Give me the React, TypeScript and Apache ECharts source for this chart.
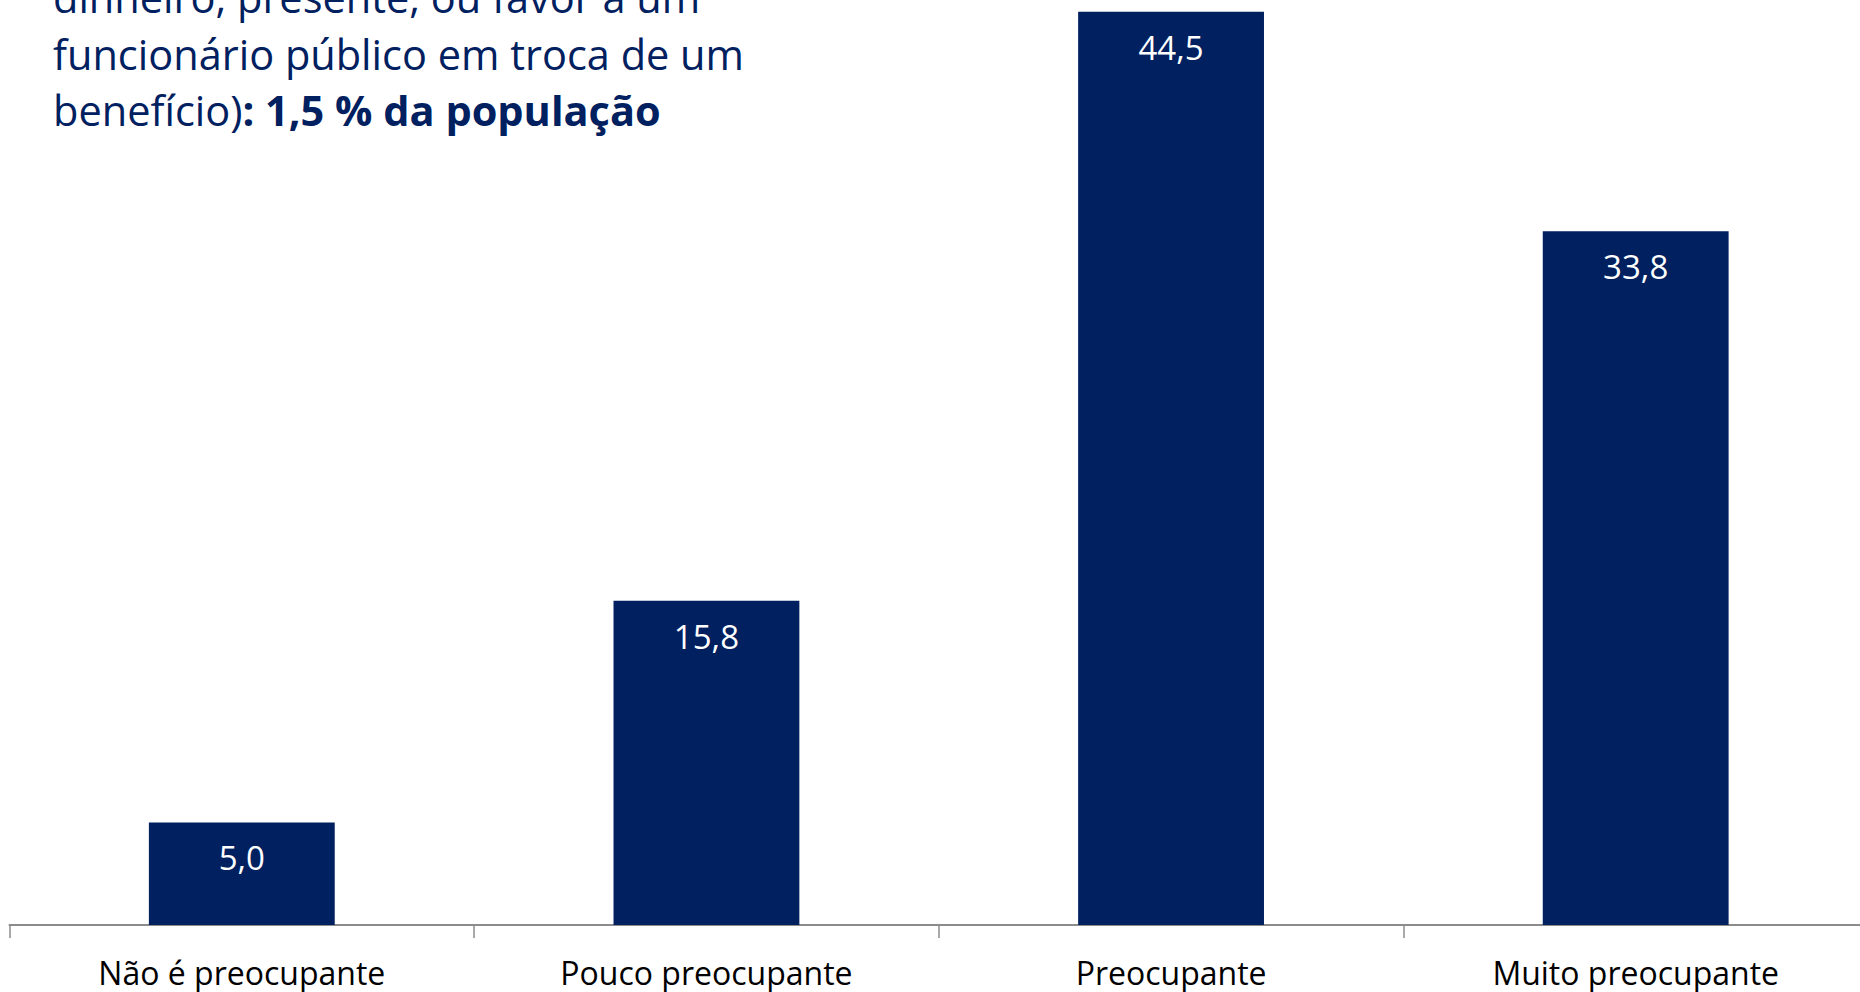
import React, { useEffect, useRef } from "react";
import * as echarts from "echarts";

const categories = ["Não é preocupante", "Pouco preocupante", "Preocupante", "Muito preocupante"];
const values = [5.0, 15.8, 44.5, 33.8];
const noteLines = [
  "dinheiro, presente, ou favor a um",
  "funcionário público em troca de um",
];
const noteLastPlain = "benefício)";
const noteLastBold = ": 1,5 % da população";

const NAVY = "#002060";
const FONT = "'Open Sans', 'Noto Sans', sans-serif";
const NOTE_SIZE = 41.5;

export default function App() {
  const ref = useRef<HTMLDivElement>(null);
  useEffect(() => {
    if (!ref.current) return;
    const chart = echarts.init(ref.current, undefined, { renderer: "svg" });
    chart.setOption({
      animation: false,
      backgroundColor: "#ffffff",
      grid: { left: 9.5, right: 1, top: 1.5, bottom: 67, containLabel: false },
      xAxis: {
        type: "category",
        data: categories,
        axisLine: { lineStyle: { color: "#8c8c8c", width: 2 } },
        axisTick: { show: true, length: 13, lineStyle: { color: "#8c8c8c", width: 1.5 } },
        axisLabel: {
          color: "#000000",
          fontFamily: FONT,
          fontSize: 32,
          margin: 31,
          interval: 0,
        },
      },
      yAxis: {
        type: "value",
        min: 0,
        max: 45,
        show: false,
        splitLine: { show: false },
      },
      series: [
        {
          type: "bar",
          data: values,
          barWidth: "40%",
          itemStyle: { color: NAVY },
          label: {
            show: true,
            position: "insideTop",
            distance: 19,
            color: "#ffffff",
            fontFamily: FONT,
            fontSize: 33,
            formatter: (p: any) => Number(p.value).toFixed(1).replace(".", ","),
          },
        },
      ],
      graphic: [
        {
          type: "text",
          x: 53,
          y: -3,
          style: {
            text: noteLines[0],
            fill: NAVY,
            font: `${NOTE_SIZE}px ${FONT}`,
            verticalAlign: "middle",
          },
        },
        {
          type: "text",
          x: 53,
          y: 54,
          style: {
            text: noteLines[1],
            fill: NAVY,
            font: `${NOTE_SIZE}px ${FONT}`,
            verticalAlign: "middle",
          },
        },
        {
          type: "text",
          x: 53,
          y: 110,
          style: {
            text: `{a|${noteLastPlain}}{b|${noteLastBold}}`,
            verticalAlign: "middle",
            rich: {
              a: { fill: NAVY, fontFamily: FONT, fontSize: NOTE_SIZE },
              b: { fill: NAVY, fontFamily: FONT, fontSize: NOTE_SIZE, fontWeight: "bold" },
            },
          },
        },
      ],
    });
    return () => chart.dispose();
  }, []);
  return (
    <div
      ref={ref}
      style={{ position: "fixed", left: 0, top: 0, width: 1869, height: 992 }}
    />
  );
}
